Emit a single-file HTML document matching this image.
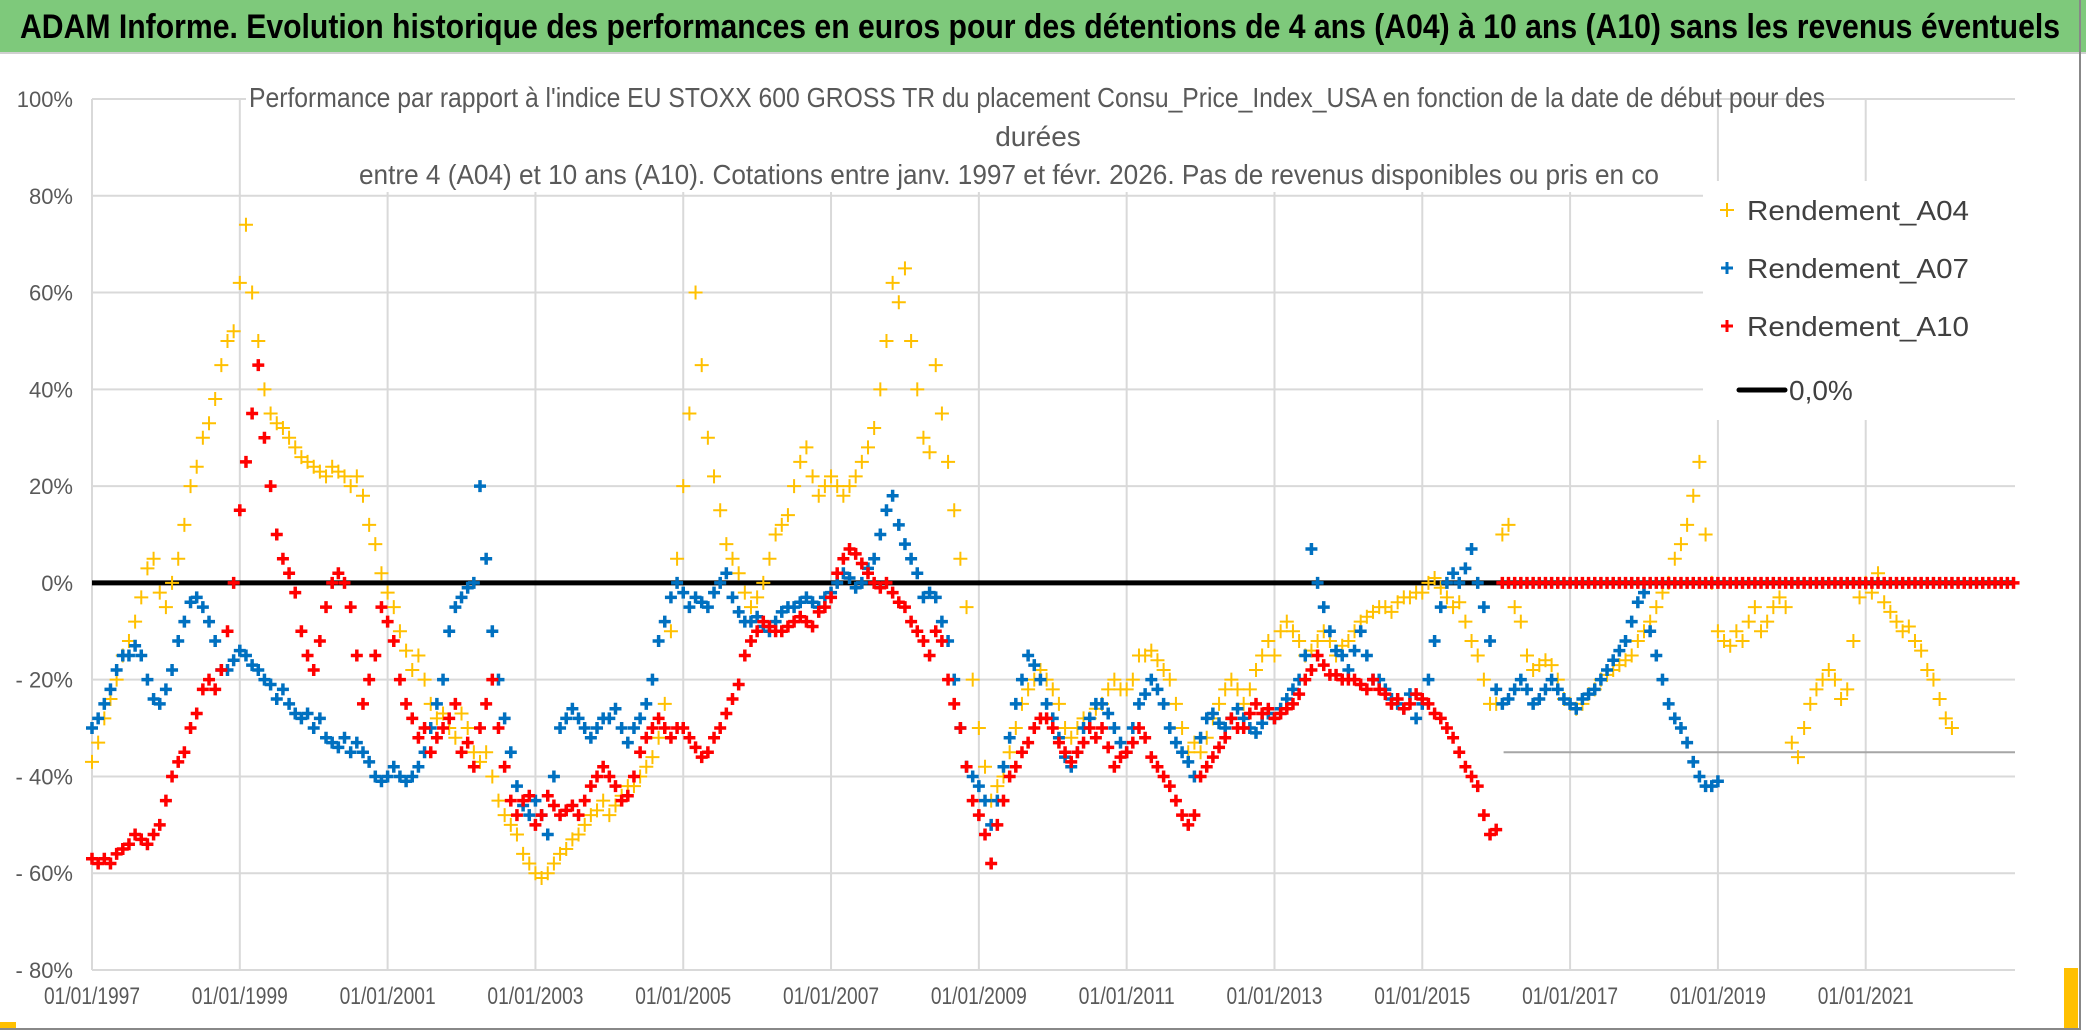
<!DOCTYPE html>
<html><head><meta charset="utf-8"><style>
html,body{margin:0;padding:0;background:#fff;}
svg{display:block;font-family:"Liberation Sans",sans-serif;}
</style></head><body>
<svg id="chart" width="2086" height="1031" viewBox="0 0 2086 1031" xmlns="http://www.w3.org/2000/svg">
<rect x="0" y="0" width="2086" height="1031" fill="#fff"/>
<rect x="0" y="0" width="2086" height="52" fill="#7ec97b"/>
<line x1="0" y1="53" x2="2086" y2="53" stroke="#d0d0d0" stroke-width="2"/>
<text x="1040" y="38" text-anchor="middle" font-size="34" font-weight="bold" fill="#000" textLength="2040" lengthAdjust="spacingAndGlyphs">ADAM Informe. Evolution historique des performances en euros pour des détentions de 4 ans (A04) à 10 ans (A10) sans les revenus éventuels</text>
<g id="grid"></g>
<g id="axes"></g>
<rect x="246" y="78" width="1456" height="114" fill="#fff"/>
<g fill="#595959" font-size="28">
<text x="249" y="107" textLength="1576" lengthAdjust="spacingAndGlyphs">Performance par rapport à l'indice EU STOXX 600 GROSS TR  du placement Consu_Price_Index_USA en fonction de la date de début pour des</text>
<text x="1038" y="146" text-anchor="middle">durées</text>
<text x="359" y="184" textLength="1300" lengthAdjust="spacingAndGlyphs">entre 4 (A04) et 10 ans (A10). Cotations entre janv. 1997 et févr. 2026. Pas de revenus disponibles ou pris en co</text>
</g>
<g id="series"></g>
<rect x="1703" y="181" width="312" height="239" fill="#fff"/>
<g font-size="28" fill="#404040">
<g><path d="M1720 210h14M1727 203v14" stroke="#FFC000" stroke-width="2"/><text x="1747" y="220" textLength="222" lengthAdjust="spacingAndGlyphs">Rendement_A04</text></g>
<g><path d="M1721 268h12M1727 262v12" stroke="#0070C0" stroke-width="3"/><text x="1747" y="278" textLength="222" lengthAdjust="spacingAndGlyphs">Rendement_A07</text></g>
<g><path d="M1721 326h12M1727 320v12" stroke="#FF0000" stroke-width="3"/><text x="1747" y="336" textLength="222" lengthAdjust="spacingAndGlyphs">Rendement_A10</text></g>
<g><line x1="1739" y1="390" x2="1785" y2="390" stroke="#000" stroke-width="5" stroke-linecap="round"/><text x="1789" y="400">0,0%</text></g>
</g>
<line x1="2080" y1="0" x2="2080" y2="1030" stroke="#888" stroke-width="2"/>
<line x1="0" y1="1029" x2="2080" y2="1029" stroke="#888" stroke-width="2"/>
<rect x="2064" y="968" width="14" height="60" fill="#FFC000"/>
<rect x="0" y="1022" width="16" height="6" fill="#FFC000"/>
</svg>
<script>
const yTicks=[100,80,60,40,20,0,-20,-40,-60,-80];
const yTickLabels=["100%","80%","60%","40%","20%","0%","- 20%","- 40%","- 60%","- 80%"];
const xTicks=[1997,1999,2001,2003,2005,2007,2009,2011,2013,2015,2017,2019,2021];
const xTickLabels=["01/01/1997","01/01/1999","01/01/2001","01/01/2003","01/01/2005","01/01/2007","01/01/2009","01/01/2011","01/01/2013","01/01/2015","01/01/2017","01/01/2019","01/01/2021"];
const seriesStart=1997.0;
const a04=[
-37,-33,-28,-24,-20,-15,-12,-8,-3,3,5,-2,
-5,0,5,12,20,24,30,33,38,45,50,52,
62,74,60,50,40,35,33,32,30,28,26,25,
24,23,22,24,23,22,20,22,18,12,8,2,
-2,-5,-10,-14,-18,-15,-20,-25,-28,-27,-30,-32,
-27,-30,-35,-37,-35,-40,-45,-48,-50,-52,-56,-58,
-60,-61,-60,-58,-56,-55,-53,-52,-50,-48,-47,-45,
-48,-46,-44,-42,-42,-40,-38,-36,-32,-25,-10,5,
20,35,60,45,30,22,15,8,5,2,-2,-5,
-3,0,5,10,12,14,20,25,28,22,18,20,
22,20,18,20,22,25,28,32,40,50,62,58,
65,50,40,30,27,45,35,25,15,5,-5,-20,
-30,-38,-45,-42,-40,-35,-30,-25,-22,-20,-18,-20,
-22,-25,-30,-32,-30,-28,-28,-26,-25,-22,-20,-22,
-22,-20,-15,-15,-14,-16,-18,-20,-25,-30,-35,-33,
-35,-32,-28,-25,-22,-20,-22,-25,-22,-18,-15,-12,
-15,-10,-8,-10,-12,-15,-14,-12,-10,-12,-15,-13,
-12,-10,-8,-7,-6,-5,-5,-6,-4,-3,-3,-2,
-2,0,1,-1,-3,-5,-4,-8,-12,-15,-20,-25,
-25,10,12,-5,-8,-15,-18,-17,-16,-17,-20,-24,
-25,-26,-25,-23,-22,-20,-19,-18,-17,-16,-15,-12,
-10,-8,-5,-2,0,5,8,12,18,25,10,0,
-10,-12,-13,-10,-12,-8,-5,-10,-8,-5,-3,-5,
-33,-36,-30,-25,-22,-20,-18,-20,-24,-22,-12,-3,
0,-2,2,-4,-6,-8,-10,-9,-12,-14,-18,-20,
-24,-28,-30];
const a07=[
-30,-28,-25,-22,-18,-15,-15,-13,-15,-20,-24,-25,
-22,-18,-12,-8,-4,-3,-5,-8,-12,-18,-18,-16,
-14,-15,-17,-18,-20,-21,-24,-22,-25,-27,-28,-27,
-30,-28,-32,-33,-34,-32,-35,-33,-35,-37,-40,-41,
-40,-38,-40,-41,-40,-38,-35,-30,-25,-20,-10,-5,
-3,-1,0,20,5,-10,-20,-28,-35,-42,-46,-48,
-45,-48,-52,-40,-30,-28,-26,-28,-30,-32,-30,-28,
-28,-26,-30,-33,-30,-28,-25,-20,-12,-8,-3,0,
-2,-5,-3,-4,-5,-2,0,2,-3,-6,-8,-8,
-7,-9,-10,-8,-6,-5,-5,-4,-3,-4,-5,-3,
-2,0,2,1,-1,0,3,5,10,15,18,12,
8,5,2,-3,-2,-3,-8,-12,-20,-30,-38,-40,
-42,-45,-50,-45,-38,-32,-25,-20,-15,-17,-20,-25,
-28,-32,-36,-38,-35,-30,-28,-25,-25,-27,-30,-33,
-35,-30,-25,-23,-20,-22,-25,-30,-33,-35,-37,-40,
-32,-28,-27,-29,-30,-28,-26,-28,-30,-31,-29,-27,
-28,-26,-24,-22,-20,-15,7,0,-5,-10,-14,-15,
-18,-14,-10,-15,-20,-20,-22,-24,-25,-26,-23,-28,
-25,-20,-12,-5,0,2,0,3,7,0,-5,-12,
-22,-25,-24,-22,-20,-22,-25,-24,-22,-20,-22,-24,
-25,-26,-24,-23,-22,-20,-18,-16,-14,-12,-8,-4,
-2,-10,-15,-20,-25,-28,-30,-33,-37,-40,-42,-42,
-41];
const a10=[
-57,-58,-57,-58,-56,-55,-54,-52,-53,-54,-52,-50,
-45,-40,-37,-35,-30,-27,-22,-20,-22,-18,-10,0,
15,25,35,45,30,20,10,5,2,-2,-10,-15,
-18,-12,-5,0,2,0,-5,-15,-25,-20,-15,-5,
-8,-12,-20,-25,-28,-32,-30,-35,-32,-30,-28,-25,
-35,-33,-38,-30,-25,-20,-30,-38,-45,-48,-45,-44,
-50,-48,-44,-46,-48,-47,-46,-48,-45,-42,-40,-38,
-40,-42,-45,-44,-40,-35,-32,-30,-28,-30,-32,-30,
-30,-32,-34,-36,-35,-32,-30,-27,-24,-21,-15,-12,
-10,-8,-9,-10,-10,-9,-8,-7,-8,-9,-6,-5,
-3,2,5,7,6,4,2,0,-1,0,-2,-4,
-5,-8,-10,-12,-15,-10,-12,-20,-25,-30,-38,-45,
-48,-52,-58,-50,-45,-40,-38,-35,-33,-30,-28,-28,
-30,-33,-35,-37,-35,-33,-30,-32,-30,-34,-38,-36,
-35,-33,-30,-32,-36,-38,-40,-42,-45,-48,-50,-48,
-40,-38,-36,-34,-32,-28,-30,-30,-27,-25,-27,-26,
-28,-27,-26,-25,-23,-20,-18,-15,-17,-19,-19,-20,
-20,-20,-21,-22,-20,-22,-23,-25,-24,-26,-25,-23,
-24,-25,-27,-28,-30,-32,-35,-38,-40,-42,-48,-52,
-51,0,0,0,0,0,0,0,0,0,0,0,
0,0,0,0,0,0,0,0,0,0,0,0,
0,0,0,0,0,0,0,0,0,0,0,0,
0,0,0,0,0,0,0,0,0,0,0,0,
0,0,0,0,0,0,0,0,0,0,0,0,
0,0,0,0,0,0,0,0,0,0,0,0,
0,0,0,0,0,0,0,0,0,0,0,0,0];
const refLevel=[-35];

const NS="http://www.w3.org/2000/svg";
const X0=92,X1=2015,XMIN=1997,XMAX=2023.02;
const Y0=99,Y1=970,YMAX=100,YMIN=-80;
function xs(t){return X0+(t-XMIN)/(XMAX-XMIN)*(X1-X0);}
function ys(v){return Y0+(YMAX-v)/(YMAX-YMIN)*(Y1-Y0);}
function mk(tag,attrs,parent){const e=document.createElementNS(NS,tag);for(const k in attrs)e.setAttribute(k,attrs[k]);parent.appendChild(e);return e;}
const grid=document.getElementById('grid'),axes=document.getElementById('axes'),ser=document.getElementById('series');
yTicks.forEach((v,i)=>{
  const l=mk('line',{x1:X0,x2:X1,y1:ys(v),y2:ys(v),stroke:'#d9d9d9','stroke-width':2},grid);
  
  
  const t=mk('text',{x:73,y:ys(v)+8,'text-anchor':'end','font-size':22,fill:'#595959'},axes);
  t.textContent=yTickLabels[i];
  
  
});
xTicks.forEach((yr,i)=>{
  const l=mk('line',{x1:xs(yr),x2:xs(yr),y1:Y0,y2:Y1,stroke:'#d9d9d9','stroke-width':2},grid);
  
  
  const t=mk('text',{x:xs(yr)-48,y:1004,'font-size':24,fill:'#595959',textLength:96,lengthAdjust:'spacingAndGlyphs'},axes);
  t.textContent=xTickLabels[i];
  
  
});
const rl=mk('line',{x1:xs(2016.1),x2:X1,y1:ys(refLevel[0]),y2:ys(refLevel[0]),stroke:'#a6a6a6','stroke-width':2},grid);


const zl=mk('line',{x1:X0,x2:X1,y1:ys(0),y2:ys(0),stroke:'#000','stroke-width':5},grid);


function drawSeries(arr,color,sw,size,name){
  const g=mk('g',{stroke:color,'stroke-width':sw},ser);
  
  
  const h=size/2;
  arr.forEach((v,i)=>{
    const x=xs(seriesStart+i/12),y=ys(v);
    const p=mk('path',{d:`M${x-h} ${y}h${size}M${x} ${y-h}v${size}`},g);
    
    
  });
}
drawSeries(a04,'#FFC000',2,14,'series-a04');
drawSeries(a07,'#0070C0',3.5,12,'series-a07');
drawSeries(a10,'#FF0000',3.5,12,'series-a10');
</script>
</body></html>
